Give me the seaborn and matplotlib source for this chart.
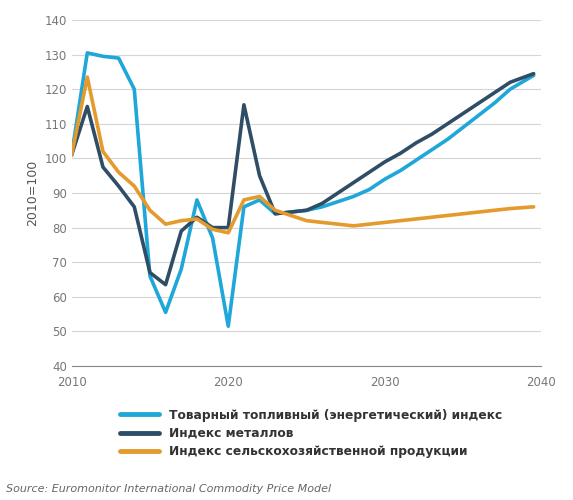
import numpy as np
import matplotlib
matplotlib.use("Agg")
import matplotlib.pyplot as plt
import seaborn as sns
import pandas as pd

years = [2010, 2011, 2012, 2013, 2014, 2015, 2016, 2017, 2018, 2019, 2020, 2021, 2022, 2023,
         2024, 2025, 2026, 2027, 2028, 2029, 2030, 2031, 2032, 2033, 2034, 2035, 2036, 2037, 2038, 2039.5]
fuel = [101, 130.5, 129.5, 129, 120, 66, 55.5, 68, 88, 77, 51.5, 86, 88, 84,
        84.5, 85, 86, 87.5, 89, 91, 94, 96.5, 99.5, 102.5, 105.5, 109, 112.5, 116, 120, 124]
metals = [101, 115, 97.5, 92, 86, 67, 63.5, 79, 83, 80, 80, 115.5, 95, 84,
          84.5, 85, 87, 90, 93, 96, 99, 101.5, 104.5, 107, 110, 113, 116, 119, 122, 124.5]
agri = [101, 123.5, 102, 96, 92, 85, 81, 82, 82.5, 79.5, 78.5, 88, 89, 85,
        83.5, 82, 81.5, 81, 80.5, 81, 81.5, 82, 82.5, 83, 83.5, 84, 84.5, 85, 85.5, 86]
names = ["Товарный топливный (энергетический) индекс", "Индекс металлов",
         "Индекс сельскохозяйственной продукции"]
colors = ["#1ea7d8", "#2f4e66", "#e49a2c"]

df = pd.DataFrame({"year": years * 3,
                   "value": fuel + metals + agri,
                   "series": [names[0]] * len(years) + [names[1]] * len(years) + [names[2]] * len(years)})

sns.set_style("white")
plt.rcParams['font.family'] = ['DejaVu Sans']
fig = plt.figure(figsize=(5.73, 5.0), dpi=100)
ax = fig.add_axes([0.125, 0.268, 0.82, 0.692])
sns.lineplot(data=df, x="year", y="value", hue="series", palette=colors, linewidth=2.6, ax=ax, legend=False)

ax.set_xlim(2010, 2040)
ax.set_ylim(40, 140)
ax.set_yticks(range(40, 141, 10))
ax.set_xticks([2010, 2020, 2030, 2040])
ax.yaxis.grid(True, color="#d5d5d5", linewidth=0.8)
for s in ["top", "right", "left"]:
    ax.spines[s].set_visible(False)
ax.spines["bottom"].set_color("#888888")
ax.tick_params(axis="both", colors="#777777", labelsize=8.5, length=0)
ax.tick_params(axis="x", length=4, color="#888888")
ax.set_xlabel("")
ax.set_ylabel("2010=100", color="#555555", fontsize=9)

handles = [plt.Line2D([0], [0], color=c, linewidth=3.5) for c in colors]
fig.legend(handles, names, loc="upper left", bbox_to_anchor=(0.19, 0.205), frameon=False,
           prop={"weight": "bold", "size": 8.8}, labelcolor="#333333", handlelength=3.2,
           labelspacing=0.45)
fig.text(0.01, 0.015, "Source: Euromonitor International Commodity Price Model",
         fontsize=8, style="italic", color="#666666")
fig.savefig("out.png", dpi=100)
